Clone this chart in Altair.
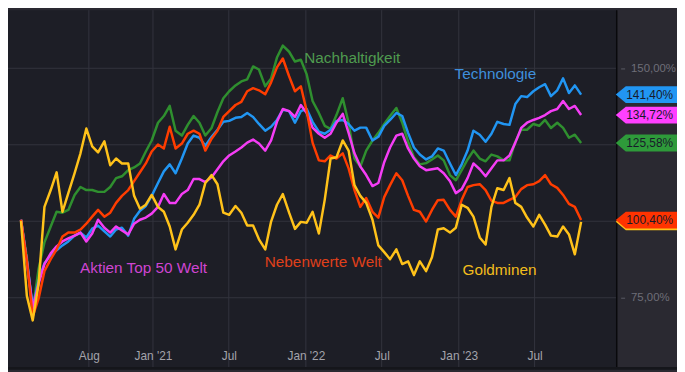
import altair as alt
import pandas as pd

# ---------------- data ----------------
dates = pd.date_range("2020-02-21", "2023-10-20", periods=95).strftime("%Y-%m-%d").tolist()

nachhaltigkeit = [100.5, 88.2, 70.8, 84.4, 93.1, 98.3, 103.1, 102.8, 103.7, 108.6,
                  111.2, 110.2, 110.2, 109.6, 109.6, 111.2, 114.1, 114.7, 116.7, 117.6,
                  118.9, 122.8, 126.4, 132.2, 134.4, 137.7, 129.6, 128.0, 131.5, 134.4,
                  132.2, 128.0, 130.5, 135.7, 140.2, 142.5, 144.4, 145.7, 146.4, 150.6,
                  149.6, 144.1, 146.7, 153.5, 157.4, 155.4, 152.2, 152.8, 148.0, 139.3,
                  135.4, 131.2, 130.2, 134.7, 140.2, 132.2, 120.5, 117.9, 123.1, 126.4,
                  128.9, 131.8, 134.4, 137.0, 132.2, 126.0, 120.9, 118.6, 119.0, 120.2,
                  121.5, 119.9, 115.1, 113.4, 116.7, 120.2, 123.1, 120.5, 119.6, 121.8,
                  121.2, 119.9, 119.9, 126.0, 129.9, 129.9, 131.8, 131.2, 133.1, 130.5,
                  132.2, 130.5, 127.3, 128.3, 125.58]

technologie = [100.5, 87.0, 72.1, 80.5, 86.3, 88.9, 90.5, 92.1, 93.4, 95.3,
               96.3, 94.7, 97.6, 98.6, 96.7, 95.0, 97.3, 97.9, 95.3, 100.8,
               103.4, 105.0, 108.3, 112.5, 116.3, 118.6, 115.7, 120.5, 125.4, 128.0,
               127.3, 124.7, 127.6, 129.9, 132.5, 132.8, 133.8, 134.1, 135.4, 134.1,
               131.8, 129.6, 130.9, 133.1, 136.4, 136.0, 132.2, 136.0, 136.7, 132.5,
               129.3, 128.6, 129.9, 132.8, 133.1, 131.8, 129.6, 130.6, 130.6, 126.4,
               127.6, 131.2, 133.1, 135.4, 134.4, 128.9, 124.1, 121.8, 120.2, 121.2,
               123.8, 123.1, 118.9, 115.1, 118.6, 123.1, 129.6, 128.3, 126.0, 128.6,
               132.5, 131.8, 131.5, 138.3, 140.9, 140.6, 142.5, 143.8, 144.8, 140.9,
               142.8, 146.7, 141.9, 144.4, 141.40]

aktien_top50 = [100.5, 87.0, 71.4, 79.5, 86.0, 89.5, 91.8, 93.4, 94.4, 95.3,
                96.3, 93.4, 96.0, 100.5, 97.9, 96.3, 98.3, 97.0, 95.7, 99.2,
                100.5, 101.2, 102.5, 104.7, 108.9, 106.0, 106.0, 108.9, 110.2, 113.8,
                113.8, 112.8, 114.4, 117.0, 119.6, 121.5, 122.8, 124.1, 125.7, 126.7,
                125.4, 123.1, 126.4, 132.5, 136.7, 136.0, 134.1, 138.0, 135.4, 130.6,
                128.6, 127.3, 128.6, 132.2, 135.1, 128.9, 122.2, 117.9, 115.1, 111.5,
                112.5, 119.3, 124.1, 128.0, 128.6, 123.8, 120.5, 118.0, 116.7, 117.0,
                117.3, 115.7, 113.1, 109.2, 110.5, 114.1, 118.9, 117.0, 114.7, 117.3,
                119.9, 119.9, 121.5, 125.7, 130.5, 132.2, 133.1, 133.8, 134.7, 136.0,
                136.7, 139.3, 136.7, 137.7, 134.72]

nebenwerte = [100.5, 87.0, 68.9, 74.7, 83.7, 87.6, 90.8, 95.0, 96.3, 96.3,
              97.3, 99.2, 101.5, 103.7, 101.5, 102.8, 106.0, 108.3, 110.2, 113.1,
              116.0, 118.9, 122.8, 125.1, 123.8, 130.9, 123.8, 125.4, 128.6, 129.6,
              128.6, 123.1, 127.0, 129.6, 134.1, 136.0, 138.0, 139.0, 142.5, 143.5,
              142.8, 141.5, 145.4, 150.3, 153.2, 147.4, 142.5, 144.1, 136.0, 125.7,
              119.9, 119.6, 121.5, 120.5, 122.2, 117.3, 110.2, 104.7, 107.6, 103.1,
              101.2, 107.9, 111.8, 115.7, 113.4, 108.3, 103.7, 103.1, 99.9, 103.7,
              106.9, 107.0, 103.7, 101.5, 107.0, 111.2, 111.8, 112.1, 110.2, 106.7,
              106.0, 106.0, 107.0, 107.9, 110.5, 111.8, 112.1, 113.1, 115.1, 112.1,
              110.9, 108.6, 105.7, 104.7, 100.40]

goldminen = [100.1, 75.6, 67.6, 79.5, 104.7, 110.2, 116.0, 103.1, 109.2, 115.7,
             122.2, 130.3, 124.5, 122.5, 126.1, 118.3, 120.5, 118.9, 118.9, 108.3,
             104.1, 105.4, 108.6, 104.7, 103.1, 98.3, 90.8, 97.3, 99.5, 102.1,
             105.4, 112.5, 115.1, 112.1, 102.8, 102.1, 105.0, 102.8, 98.6, 98.6,
             94.1, 90.8, 99.9, 105.4, 108.9, 102.8, 97.5, 99.8, 99.5, 103.1,
             96.0, 107.0, 120.5, 120.9, 126.4, 123.1, 111.8, 108.3, 106.0, 100.5,
             92.1, 89.9, 87.6, 90.8, 86.0, 86.9, 82.4, 86.9, 83.7, 88.2,
             97.3, 97.7, 96.3, 97.9, 105.4, 104.4, 101.5, 94.7, 92.4, 104.7,
             110.8, 110.2, 114.1, 106.0, 104.7, 101.2, 98.3, 102.1, 98.9, 95.3,
             95.0, 98.3, 95.7, 89.2, 99.8]

series_names = ["Nachhaltigkeit", "Technologie", "Aktien Top 50 Welt", "Nebenwerte Welt", "Goldminen"]
series_values = [nachhaltigkeit, technologie, aktien_top50, nebenwerte, goldminen]
line_colors = ["#2f8f2f", "#2196f3", "#f53df5", "#ff3d00", "#ffc21a"]
text_colors = ["#4f9b4f", "#3f8fdc", "#cf45d2", "#e0401a", "#f2bd1c"]

# in-chart series labels (left edge date, vertical value)
label_dates = ["2021-12-28", "2022-12-22", "2020-07-11", "2021-09-25", "2023-01-10"]
label_values = [153.2, 148.2, 84.8, 86.8, 83.9]

# price tags on the right axis (drawn in this order)
tag_names = ["Goldminen", "Nebenwerte Welt", "Nachhaltigkeit", "Aktien Top 50 Welt", "Technologie"]
tag_values = [99.8, 100.40, 125.58, 134.72, 141.40]
tag_colors = ["#ffc21a", "#ff3300", "#2e9a3a", "#ff40ff", "#2196f3"]
tag_show_text = [False, True, True, True, True]

x_ticks = ["2020-08-01", "2021-01-01", "2021-07-01", "2022-01-01", "2022-07-01", "2023-01-01", "2023-07-01"]
y_ticks = [75, 100, 125, 150]

# ---------------- tables ----------------
rows = []
for order, (name, vals, col) in enumerate(zip(series_names, series_values, line_colors)):
    for d, v in zip(dates, vals):
        rows.append({"date": d, "value": v, "series": name, "color": col, "order": order})
lines_df = pd.DataFrame(rows)

labels_df = pd.DataFrame({"date": label_dates, "value": label_values,
                          "name": series_names, "color": text_colors})

tags_df = pd.DataFrame({
    "name": tag_names, "value": tag_values, "color": tag_colors,
    "text": [(f"{v:.2f}".replace(".", ",") + "%") if s else "" for v, s in zip(tag_values, tag_show_text)],
    "order": list(range(len(tag_names))),
})
xgrid_df = pd.DataFrame({"date": x_ticks})
ygrid_df = pd.DataFrame({"value": y_ticks})

W, H = 616, 361
x_scale = alt.Scale(domain=[alt.DateTime(year=2020, month=1, date=21, utc=True),
                            alt.DateTime(year=2024, month=1, date=13, utc=True)], nice=False)
y_scale = alt.Scale(domain=[52.4, 169.0], zero=False, nice=False)

x_axis = alt.Axis(
    values=[alt.DateTime(year=int(t[:4]), month=int(t[5:7]), date=1, utc=True) for t in x_ticks],
    labelExpr="utcFormat(datum.value, '%m') == '01' ? 'Jan \\'' + utcFormat(datum.value, '%y') : utcFormat(datum.value, '%b')",
    grid=False, domain=False, ticks=False, zindex=1,
    labelPadding=-16, labelColor="#a3a3ab", labelFontSize=12, labelFont="Liberation Sans",
    labelOverlap=False, labelFlush=False, title=None,
)
y_axis = alt.Axis(
    orient="right", values=y_ticks, grid=False,
    domain=False, ticks=True, tickSize=4, tickColor="#5a5a64", offset=4,
    labelPadding=6, labelColor="#6e6e78", labelFontSize=11.5, labelFont="Liberation Sans",
    labelExpr="(datum.value == 75 || datum.value == 150) ? replace(format(datum.value, '.2f'), '.', ',') + '%' : ''",
    title=None,
)

X = alt.X("date:T", scale=x_scale, axis=x_axis)
Y = alt.Y("value:Q", scale=y_scale, axis=y_axis)

one = pd.DataFrame({"k": [0]})
grid_color = "#33343e"

plot_bg = alt.Chart(one).mark_rect(color="#1d1e26", clip=False).encode(
    x=alt.value(0), x2=alt.value(W), y=alt.value(0), y2=alt.value(H)
)
xgrid = alt.Chart(xgrid_df).mark_rule(color=grid_color, strokeWidth=1).encode(
    x=X, y=alt.value(0), y2=alt.value(H + 3)
)
ygrid = alt.Chart(ygrid_df).mark_rule(color=grid_color, strokeWidth=1).encode(
    y=Y, x=alt.value(0), x2=alt.value(W)
)

lines = alt.Chart(lines_df).mark_line(strokeWidth=2.5, strokeJoin="round", clip=True).encode(
    x=X, y=Y,
    color=alt.Color("color:N", scale=None),
    detail="series:N",
    order="date:T",
)

series_text = alt.Chart(labels_df).mark_text(
    align="left", baseline="middle", fontSize=15.5, font="Liberation Sans"
).encode(
    x=X, y=Y,
    text="name:N",
    color=alt.Color("color:N", scale=None),
)

bottom_strip = alt.Chart(one).mark_rect(color="#15161b", clip=False).encode(
    x=alt.value(0), x2=alt.value(W + 61), y=alt.value(H), y2=alt.value(H + 3)
)

separator = alt.Chart(one).mark_rule(color="#09090c", strokeWidth=1.5, clip=False).encode(
    x=alt.value(W), y=alt.value(0), y2=alt.value(H)
)

tag_shape = "M0,0 L1.2,-1 L9,-1 L9,1 L1.2,1 Z"
tags = alt.Chart(tags_df).mark_point(
    shape=tag_shape, filled=True, opacity=1, size=289, clip=False, strokeWidth=0
).encode(
    x=alt.value(W - 1),
    y=Y,
    color=alt.Color("color:N", scale=None),
    order="order:Q",
)

tag_text = alt.Chart(tags_df).mark_text(
    align="right", baseline="middle", fontSize=12, font="Liberation Sans", color="#181a2a", clip=False
).encode(
    x=alt.value(W + 57),
    y=Y,
    text="text:N",
)

chart = alt.layer(plot_bg, xgrid, ygrid, lines, series_text, separator, bottom_strip, tags, tag_text).properties(
    width=W, height=H,
    autosize=alt.AutoSizeParams(type="none"),
    padding={"left": 0, "top": 0, "right": 61, "bottom": 3},
    background="#2a2931",
).configure(font="Liberation Sans").configure_view(stroke="transparent")

chart.save("out.html", embed_options={"renderer": "svg", "actions": False})
